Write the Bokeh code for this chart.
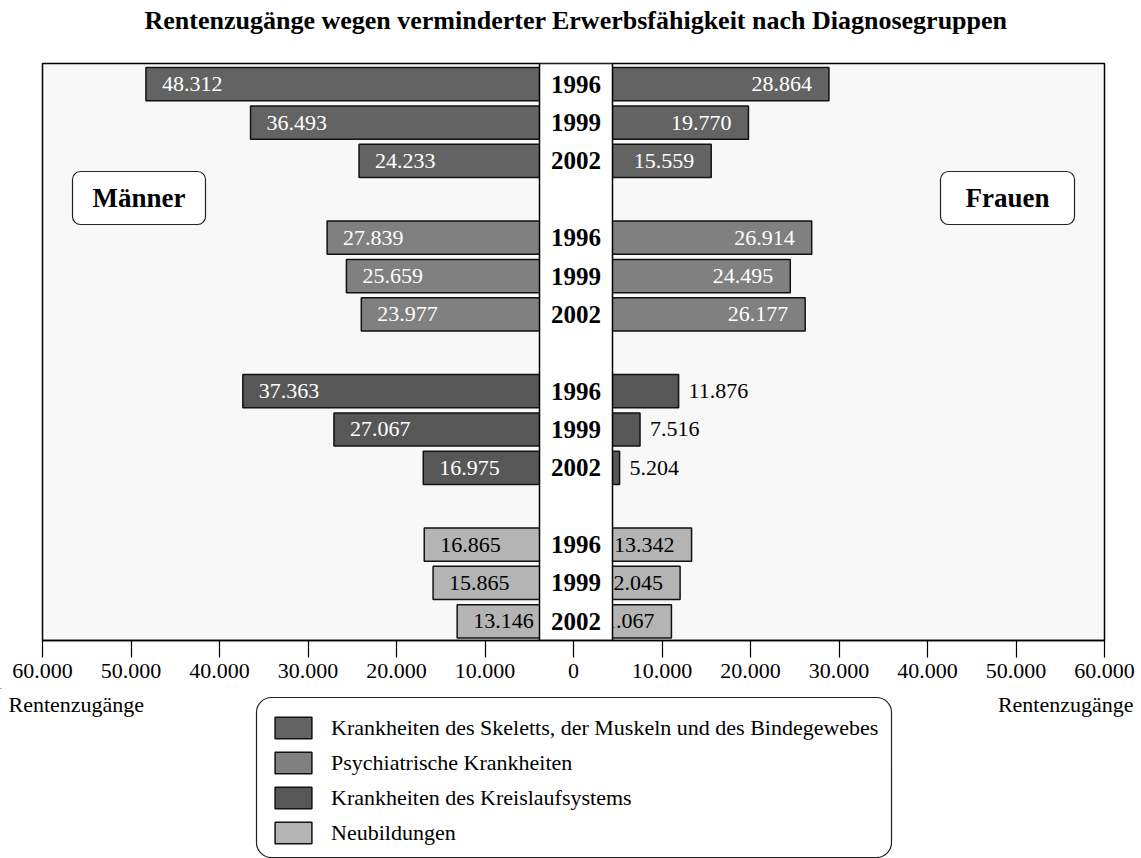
from bokeh.plotting import figure
from bokeh.layouts import column
from bokeh.models import (ColumnDataSource, Range1d, LinearAxis, FixedTicker, Label,
                          BoxAnnotation, Legend, LegendItem)
from bokeh.core.properties import value
from bokeh.embed import file_html
from bokeh.resources import INLINE

# ---------------- data ----------------
title_text = "Rentenzugänge wegen verminderter Erwerbsfähigkeit nach Diagnosegruppen"
categories = [
    "Krankheiten des Skeletts, der Muskeln und des Bindegewebes",
    "Psychiatrische Krankheiten",
    "Krankheiten des Kreislaufsystems",
    "Neubildungen",
]
years = ["1996", "1999", "2002"]
maenner_skelett = [48312, 36493, 24233]
frauen_skelett = [28864, 19770, 15559]
maenner_psych = [27839, 25659, 23977]
frauen_psych = [26914, 24495, 26177]
maenner_kreislauf = [37363, 27067, 16975]
frauen_kreislauf = [11876, 7516, 5204]
maenner_neubildungen = [16865, 15865, 13146]
frauen_neubildungen = [13342, 12045, 11067]
tick_values = [-60000, -50000, -40000, -30000, -20000, -10000, 0,
               10000, 20000, 30000, 40000, 50000, 60000]
tick_labels = ["60.000", "50.000", "40.000", "30.000", "20.000", "10.000", "0",
               "10.000", "20.000", "30.000", "40.000", "50.000", "60.000"]
axis_title = "Rentenzugänge"
left_group = "Männer"
right_group = "Frauen"

maenner = [maenner_skelett, maenner_psych, maenner_kreislauf, maenner_neubildungen]
frauen = [frauen_skelett, frauen_psych, frauen_kreislauf, frauen_neubildungen]

# ---------------- styles ----------------
bar_colors = ["#636363", "#808080", "#575757", "#b4b4b4"]
inside_text_colors = ["white", "white", "white", "black"]
women_label_outside = [False, False, True, False]
FONT = "Liberation Serif"
SERIF = value(FONT)

W = 1141
H0 = 40                 # title strip
H1 = 688 - H0           # chart
H2 = 858 - H0 - H1      # legend strip
FL, FR = 42, 1104
FT, FB = 63 - H0, 640 - H0
Y_TOP, Y_BOT = -0.54, 14.5
UPP = 120000 / (FR - FL)  # data units per pixel


def dx(px):
    return -60000 + (px - FL) * UPP


def dy(py):
    return Y_TOP + (py - H0 - FT) * (Y_BOT - Y_TOP) / (FB - FT)


def fmt(v):
    return f"{v:,}".replace(",", ".")


def strip(height, top):
    f = figure(width=W, height=height, x_range=Range1d(0, W), y_range=Range1d(top + height, top),
               x_axis_type=None, y_axis_type=None, toolbar_location=None, output_backend="svg",
               min_border_left=0, min_border_right=0, min_border_top=0, min_border_bottom=0,
               background_fill_color="white", border_fill_color="white", outline_line_color=None)
    f.frame_align = False
    return f


# ---------------- title strip ----------------
t = strip(H0, 0)
t.add_layout(Label(x=575.5, y=20, text=title_text, text_font=FONT, text_font_size="26px",
                   text_font_style="bold", text_align="center", text_baseline="middle",
                   text_color="black"))

# ---------------- chart ----------------
p = figure(width=W, height=H1, x_range=Range1d(-60000, 60000), y_range=Range1d(Y_BOT, Y_TOP),
           x_axis_type=None, y_axis_type=None, toolbar_location=None, output_backend="svg",
           min_border_left=FL, min_border_right=W - FR, min_border_top=FT, min_border_bottom=H1 - FB,
           background_fill_color="#f8f8f8", border_fill_color="white",
           outline_line_color="black", outline_line_width=1.5)
p.frame_align = False

bar_renderers = []
for g, cat in enumerate(categories):
    slots = [4 * g + j for j in range(3)]
    m = maenner[g]
    f = frauen[g]
    src = ColumnDataSource(dict(
        y=slots + slots,
        left=[-v for v in m] + [0] * 3,
        right=[0] * 3 + list(f),
    ))
    r = p.hbar(y="y", left="left", right="right", height=0.865, source=src,
               fill_color=bar_colors[g], line_color="#111111", line_width=1.5)
    bar_renderers.append(r)

    p.text(x=[-v + 16 * UPP for v in m], y=slots, text=[fmt(v) for v in m],
           text_font=SERIF, text_font_size="22px", text_align="left", text_baseline="middle",
           text_color=inside_text_colors[g])
    if women_label_outside[g]:
        p.text(x=[v + 10 * UPP for v in f], y=slots, text=[fmt(v) for v in f],
               text_font=SERIF, text_font_size="22px", text_align="left", text_baseline="middle",
               text_color="black")
    else:
        p.text(x=[v - 17 * UPP for v in f], y=slots, text=[fmt(v) for v in f],
               text_font=SERIF, text_font_size="22px", text_align="right", text_baseline="middle",
               text_color=inside_text_colors[g])

# central white column
p.quad(left=dx(539), right=dx(612), top=Y_TOP, bottom=Y_BOT,
       fill_color="white", line_color="black", line_width=1.5)

# year labels
year_slots = [4 * g + j for g in range(len(categories)) for j in range(3)]
p.text(x=[dx(575.5)] * len(year_slots), y=year_slots, text=years * len(categories),
       text_font=SERIF, text_font_size="25px", text_font_style="bold",
       text_align="center", text_baseline="middle", text_color="black")

# Männer / Frauen boxes
for (l, r_, cx, txt) in [(72, 205, 138.5, left_group), (940, 1074, 1007, right_group)]:
    p.add_layout(BoxAnnotation(left=dx(l), right=dx(r_), top=dy(171), bottom=dy(224),
                               fill_color="white", fill_alpha=1, line_color="#222222",
                               line_alpha=1, line_width=1.2, border_radius=8, level="overlay"))
    p.add_layout(Label(x=dx(cx), y=dy(197.5), text=txt, text_font=FONT, text_font_size="27px",
                       text_font_style="bold", text_align="center", text_baseline="middle",
                       text_color="black", level="overlay"))

# axis
ax = LinearAxis(ticker=FixedTicker(ticks=tick_values),
                major_label_overrides={v: lab for v, lab in zip(tick_values, tick_labels)},
                major_tick_out=17, major_tick_in=0, minor_tick_out=0, minor_tick_in=0,
                axis_line_width=1.5, axis_line_color="black", major_tick_line_width=1.2,
                major_tick_line_color="black", major_label_standoff=6,
                major_label_text_font=FONT, major_label_text_font_size="22px",
                major_label_text_color="black")
p.add_layout(ax, "below")

# ---------------- legend strip ----------------
q = strip(H2, H0 + H1)
q.add_layout(Label(x=8, y=704, text=axis_title, text_font=FONT, text_font_size="22px",
                   text_align="left", text_baseline="middle", text_color="black"))
q.add_layout(Label(x=1133, y=704, text=axis_title, text_font=FONT, text_font_size="22px",
                   text_align="right", text_baseline="middle", text_color="black"))

q.add_layout(BoxAnnotation(left=256, right=891, top=697, bottom=857,
                           fill_color="white", fill_alpha=1, line_color="#222222", line_alpha=1,
                           line_width=1.2, border_radius=15, level="underlay"))

legend_renderers = []
for g, cat in enumerate(categories):
    # one off-screen (zero-width) row, only to carry the swatch style for the legend
    rr = q.hbar(y=[0], left=[0], right=[0], height=1, fill_color=bar_colors[g],
                line_color="#111111", line_width=1.5)
    legend_renderers.append(rr)

legend = Legend(items=[LegendItem(label=c, renderers=[r]) for c, r in zip(categories, legend_renderers)],
                location=(260, 2), glyph_width=46, glyph_height=27, label_height=27,
                spacing=8, padding=10, margin=0, label_standoff=15,
                label_text_font=FONT, label_text_font_size="22px", label_text_color="black",
                border_line_alpha=0, background_fill_alpha=0)
q.add_layout(legend)

layout = column(t, p, q, spacing=0)
open("out.html", "w").write(file_html(layout, INLINE))
